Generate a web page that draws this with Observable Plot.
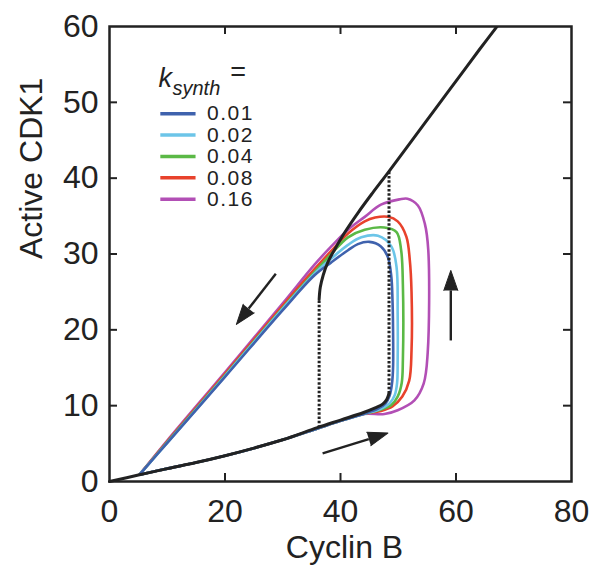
<!DOCTYPE html>
<html>
<head>
<meta charset="utf-8">
<script src="https://cdn.jsdelivr.net/npm/d3@7"></script>
<script src="https://cdn.jsdelivr.net/npm/@observablehq/plot@0.6"></script>
<style>
  body { margin: 0; background: #fff; }
  #chart svg { display: block; }
</style>
</head>
<body>
<div id="chart"></div>
<script>
// ---- data ----
const kValues = ["0.01", "0.02", "0.04", "0.08", "0.16"];
const kColors = ["#3f62ad", "#6cc5e8", "#5bb946", "#e8422c", "#b24fb5"];

// shared lower part of every limit cycle (runs under the black lower branch)
const loopBottom = [[5.2,0.9],[10,1.7],[15,2.5],[20,3.4],[25,4.4],[30,5.5],[36,7.0],[40,8.0],[44,8.9]];

const loop001 = [[46.5,9.6],[47.8,10.3],[48.5,11.3],[48.9,12.8],[49.1,15],[49.1,20],[49.0,24],[48.8,27],[48.2,29.6],[47,31],[45,31.6],[43,31.3],[41.3,30.5],[38.4,28.9],[35.5,27.2],[30,22.6],[20,13.8],[10,5.1],[5.2,0.9]];
const loop002 = [[47,9.6],[48.5,10.3],[49.4,11.4],[49.8,13],[49.9,16],[49.9,22],[49.7,28.3],[48.8,31],[46.5,32.4],[43.6,32.2],[41.3,31.2],[38.4,29.4],[35.5,27.4],[30,22.8],[20,13.9],[10,5.1],[5.2,0.9]];
const loop004 = [[47,9.5],[48.8,10.1],[49.9,11.2],[50.6,13],[50.8,16],[50.8,26],[50.5,30.5],[49.7,32.9],[47.6,33.5],[44.2,33.2],[41.3,32.2],[38.4,30],[35.5,27.6],[30,22.9],[20,14],[10,5.2],[5.2,0.9]];
const loop008 = [[47,9.3],[49,9.9],[50.7,11.2],[51.9,13.3],[52.3,17.3],[52.3,25],[52,29.2],[51.4,32.3],[49.9,34.3],[48.2,34.9],[46,34.8],[44.2,34.3],[41.3,32.7],[38.4,30.4],[35.5,28],[30,23.2],[20,14.2],[10,5.3],[5.2,0.9]];
const loop016 = [[47.6,8.9],[49.9,9.4],[52.8,10.7],[54.4,12.9],[55.1,17],[55.2,30.5],[54.6,34],[53.4,36.4],[51.6,37.3],[50.2,37.2],[47,36.5],[44.2,34.9],[41.3,33.2],[38.4,31],[35.5,28.6],[30,23.5],[20,14.4],[10,5.4],[5.2,0.9]];
const loops = [loop001, loop002, loop004, loop008, loop016];

// steady-state curve (black)
const lowerBranch = [[0,0],[5,0.85],[10,1.7],[15,2.5],[20,3.4],[25,4.4],[30,5.5],[36,7.1],[40,8.1],[44,9.1],[46,9.7],[47.3,10.2],[48,10.8],[48.4,11.6]];
const upperBranch = [[36.3,24.0],[36.5,25.6],[37,27.2],[37.8,28.9],[39,30.6],[40.7,32.8],[43,35.4],[45.5,38.0],[48.4,40.9],[52,44.6],[56.3,49.0],[60,52.8],[64,56.9],[67.4,60.3]];

// dotted jumps (saddle-node thresholds)
const jumpX  = [36.3, 48.4];
const jumpY1 = [7.1, 11.6];
const jumpY2 = [24.0, 40.9];

// direction arrows: shaft start and arrow-head base
const arrowStart = [[28.8,27.4],[36.9,3.7],[59.1,18.6]];
const arrowBase  = [[24.1,22.8],[44.9,5.6],[59.1,25.2]];

const xTicks = [0, 20, 40, 60, 80];
const yTicks = [0, 10, 20, 30, 40, 50, 60];

// ---- layout ----
const W = 591, H = 571;
const mL = 109, mR = 20, mT = 26, mB = 90;
const frameW = W - mL - mR, frameH = H - mT - mB;
const sx = frameW / 80, sy = frameH / 60;
const ink = "#222";
const font = "'Liberation Sans', Arial, Helvetica, sans-serif";

const loopMarks = loops.map((pts, i) => ({k: kValues[i], pts: loopBottom.concat(pts)}))
  .reverse()
  .map(({k, pts}) => Plot.line(pts, {x: d => d[0], y: d => d[1], stroke: () => k, strokeWidth: 2.6, curve: "catmull-rom"}));

const jumps = jumpX.map((x, i) => ({x, y1: jumpY1[i], y2: jumpY2[i]}));
const arrows = arrowStart.map((s, i) => {
  const b = arrowBase[i];
  const ang = Math.atan2((b[0] - s[0]) * sx, (b[1] - s[1]) * sy) * 180 / Math.PI;
  return {x1: s[0], y1: s[1], x2: b[0], y2: b[1], angle: ang};
});

const legendRows = kValues.map((k, i) => ({k, y: 48.5 - i * 2.82}));
const innerX = xTicks.slice(1, -1), innerY = yTicks.slice(1, -1);

const chart = Plot.plot({
  width: W, height: H,
  marginLeft: mL, marginRight: mR, marginTop: mT, marginBottom: mB,
  x: {domain: [0, 80]},
  y: {domain: [0, 60]},
  color: {domain: kValues, range: kColors},
  style: {fontFamily: font, color: ink, background: "#fff", overflow: "visible"},
  marks: [
    ...loopMarks,
    Plot.line(lowerBranch, {x: d => d[0], y: d => d[1], stroke: ink, strokeWidth: 3, curve: "catmull-rom"}),
    Plot.line(upperBranch, {x: d => d[0], y: d => d[1], stroke: ink, strokeWidth: 3, curve: "catmull-rom", clip: true}),
    Plot.link(jumps, {x1: "x", x2: "x", y1: "y1", y2: "y2", stroke: ink, strokeWidth: 3, strokeDasharray: "2.5,1.8"}),
    Plot.link(arrows, {x1: "x1", y1: "y1", x2: "x2", y2: "y2", stroke: ink, strokeWidth: 2.4}),
    Plot.vector(arrows, {x: "x2", y: "y2", rotate: "angle", length: 20, r: 7, shape: "spike", anchor: "start", fill: ink, stroke: ink, strokeWidth: 1}),
    // frame and inward ticks on all sides
    Plot.frame({stroke: ink, strokeWidth: 2.5}),
    Plot.tickX(innerX, {x: d => d, insetTop: frameH - 8, stroke: ink, strokeWidth: 2}),
    Plot.tickX(innerX, {x: d => d, insetBottom: frameH - 8, stroke: ink, strokeWidth: 2}),
    Plot.tickY(innerY, {y: d => d, insetRight: frameW - 8, stroke: ink, strokeWidth: 2}),
    Plot.tickY(innerY, {y: d => d, insetLeft: frameW - 8, stroke: ink, strokeWidth: 2}),
    // tick labels
    Plot.axisX(xTicks, {tickSize: 0, tickPadding: 18, fontSize: 32, label: null}),
    Plot.axisY(yTicks, {tickSize: 0, tickPadding: 11, fontSize: 32, label: null}),
    // axis titles
    Plot.text(["Active CDK1"], {frameAnchor: "left", text: d => d, rotate: -90, dx: -78, dy: 5, fontSize: 32, fill: ink}),
    Plot.text(["Cyclin B"], {frameAnchor: "bottom", text: d => d, dy: 66, dx: 4, lineAnchor: "middle", fontSize: 32, fill: ink}),
    // legend
    Plot.text(["k"], {x: 8.5, y: 53.1, text: d => d, textAnchor: "start", fontStyle: "italic", fontSize: 27, fill: ink}),
    Plot.text(["synth"], {x: 10.9, y: 51.75, text: d => d, textAnchor: "start", fontStyle: "italic", fontSize: 20, fill: ink}),
    Plot.text(["="], {x: 20.9, y: 53.9, text: d => d, textAnchor: "start", fontSize: 27, fill: ink}),
    Plot.link(legendRows, {x1: 8.8, x2: 14.9, y1: "y", y2: "y", stroke: "k", strokeWidth: 3.5}),
    Plot.text(legendRows, {x: 16.9, y: "y", text: "k", textAnchor: "start", fontSize: 21, fill: ink, style: "letter-spacing:1.5px"})
  ]
});
chart.querySelectorAll("text").forEach(t => {
  if (/^0\.\d\d$/.test(t.textContent)) t.style.letterSpacing = "1.5px";
});
document.getElementById("chart").appendChild(chart);
</script>
</body>
</html>
